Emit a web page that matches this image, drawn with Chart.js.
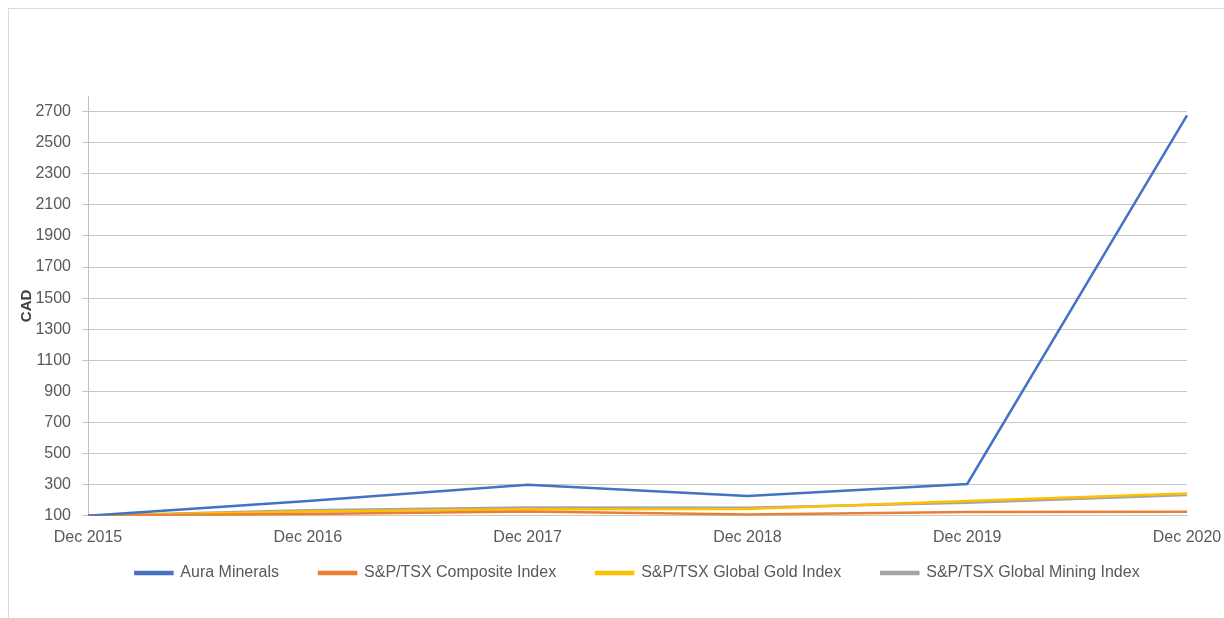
<!DOCTYPE html>
<html>
<head>
<meta charset="utf-8">
<script src="https://cdn.jsdelivr.net/npm/chart.js@4/dist/chart.umd.min.js"></script>
<style>
  html, body { margin: 0; padding: 0; background: #fff; }
  #wrap { position: relative; width: 1224px; height: 618px; }
  #frame { position: absolute; left: 8px; top: 8px; right: -2px; bottom: -2px;
           border-left: 1px solid #d9d9d9; border-top: 1px solid #d9d9d9; }
  canvas { position: absolute; left: 0; top: 0; }
</style>
</head>
<body>
<div id="wrap">
  <div id="frame"></div>
  <canvas id="grafico" width="1224" height="618"></canvas>
</div>
<script>
// years on the x axis
const periodos = ['Dec 2015', 'Dec 2016', 'Dec 2017', 'Dec 2018', 'Dec 2019', 'Dec 2020'];

// values (CAD, base 100)
const aura      = [100, 195, 300, 228, 305, 2675];
const composite = [100, 112, 127, 108, 125, 126];
const gold      = [100, 128, 142, 144, 195, 244];
const mining    = [100, 135, 153, 151, 184, 233];

// y tick labels
const ticksY = [100, 300, 500, 700, 900, 1100, 1300, 1500, 1700, 1900, 2100, 2300, 2500, 2700];

const fuente = 'Liberation Sans';
const gris = '#595959';

// moves the legend up under the x labels, like in the original
const subirLeyenda = {
  id: 'subirLeyenda',
  afterLayout(chart) {
    const lg = chart.legend;
    const alto = lg.bottom - lg.top;
    lg.top = 525;
    lg.bottom = lg.top + alto;
  }
};

new Chart(document.getElementById('grafico'), {
  type: 'line',
  data: {
    labels: periodos,
    datasets: [
      { label: 'Aura Minerals', data: aura, borderColor: '#4472C4', backgroundColor: '#4472C4' },
      { label: 'S&P/TSX Composite Index', data: composite, borderColor: '#ED7D31', backgroundColor: '#ED7D31' },
      { label: 'S&P/TSX Global Gold Index', data: gold, borderColor: '#FFC000', backgroundColor: '#FFC000' },
      { label: 'S&P/TSX Global Mining Index', data: mining, borderColor: '#A5A5A5', backgroundColor: '#A5A5A5' }
    ]
  },
  plugins: [subirLeyenda],
  options: {
    responsive: false,
    animation: false,
    devicePixelRatio: 1,
    elements: {
      line: { borderWidth: 2.5, tension: 0 },
      point: { radius: 0 }
    },
    layout: { padding: { left: 8, top: 96, right: 37, bottom: 1 } },
    scales: {
      x: {
        grid: { display: false, drawTicks: false },
        border: { display: true, color: '#c8c8c8' },
        ticks: { color: gris, font: { family: fuente, size: 16 }, padding: 12, maxRotation: 0, autoSkip: false },
        afterFit: scale => { scale.paddingLeft = 0; scale.paddingRight = 0; }
      },
      y: {
        min: ticksY[0],
        max: ticksY[ticksY.length - 1] + 100,
        afterBuildTicks: scale => {
          scale.ticks = ticksY.map(v => ({ value: v }));
        },
        ticks: { color: gris, font: { family: fuente, size: 16 }, padding: 11, callback: v => String(v) },
        grid: { color: '#c8c8c8', lineWidth: 1, tickLength: 6 },
        border: { display: true, color: '#bfbfbf' },
        title: { display: true, text: 'CAD', color: '#404040',
                 font: { family: fuente, size: 15, weight: 'bold' }, padding: { top: 10, bottom: 0 } },
        afterFit: scale => { scale.width = 80; }
      }
    },
    plugins: {
      legend: {
        position: 'bottom',
        fullSize: false,
        maxHeight: 58,
        labels: { boxWidth: 37, boxHeight: 2, padding: 40, color: gris, font: { family: fuente, size: 16 } }
      },
      tooltip: { enabled: false }
    }
  }
});
</script>
</body>
</html>
